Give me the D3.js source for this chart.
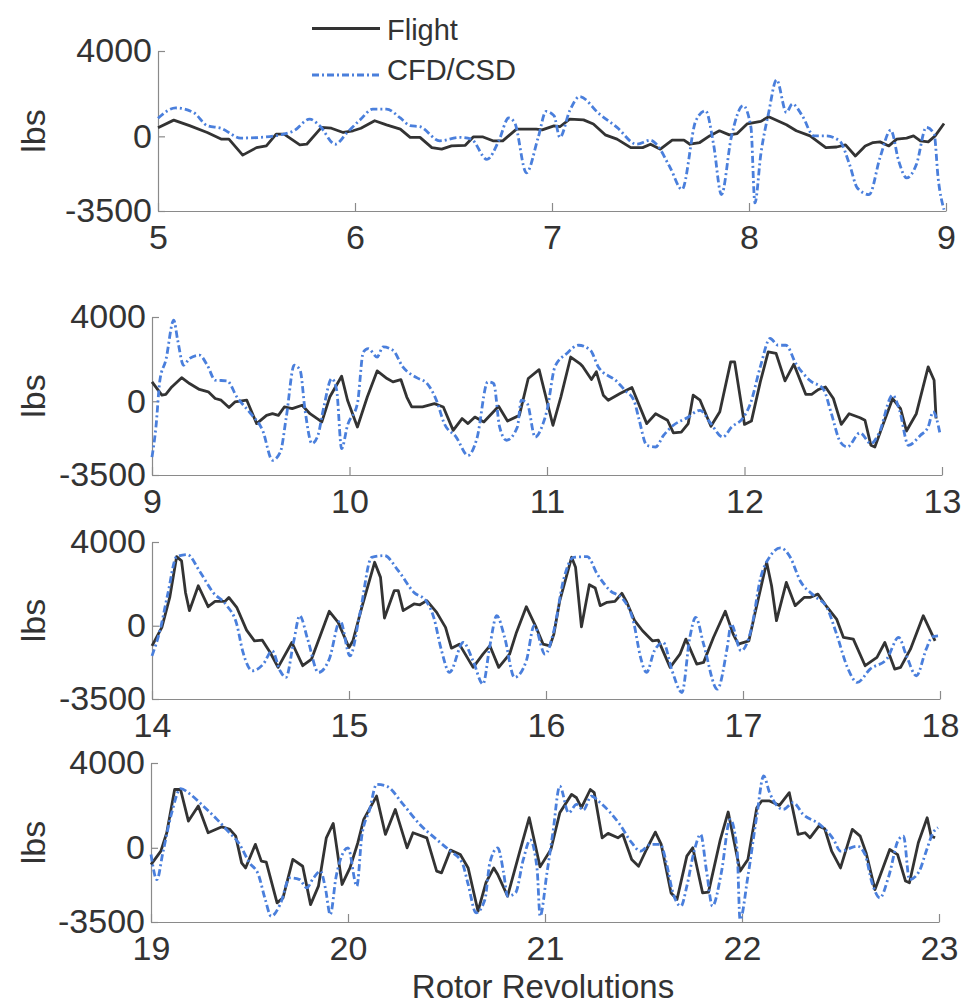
<!DOCTYPE html>
<html>
<head>
<meta charset="utf-8">
<script src="https://cdn.jsdelivr.net/npm/d3@7"></script>
<style>
  html, body { margin: 0; padding: 0; background: #ffffff; }
  svg { display: block; }
  text { font-family: "Liberation Sans", Arial, sans-serif; fill: #333333; }
</style>
</head>
<body>
<svg id="chart" width="964" height="1007"></svg>
<script>
// Blade load time histories, four revolution windows: [revolution, lbs]
const flight1 = [[5.00,400],[5.08,760],[5.16,500],[5.25,180],[5.32,-130],[5.36,-130],[5.43,-880],[5.50,-530],[5.55,-450],[5.60,100],[5.64,100],[5.72,-400],[5.755,-370],[5.83,420],[5.88,380],[5.94,180],[5.99,260],[6.03,380],[6.10,730],[6.16,540],[6.23,340],[6.28,-50],[6.33,-50],[6.39,-530],[6.44,-600],[6.49,-450],[6.56,-420],[6.60,-30],[6.65,-30],[6.70,-210],[6.75,-210],[6.82,340],[6.92,340],[6.95,300],[7.01,490],[7.04,450],[7.09,810],[7.16,770],[7.21,580],[7.27,70],[7.33,-130],[7.40,-530],[7.46,-530],[7.50,-370],[7.55,-600],[7.61,-180],[7.67,-180],[7.70,-370],[7.75,-290],[7.80,20],[7.85,260],[7.90,70],[7.94,130],[7.99,580],[8.06,700],[8.10,920],[8.19,540],[8.24,260],[8.31,20],[8.39,-530],[8.445,-500],[8.49,-400],[8.54,-920],[8.59,-450],[8.63,-290],[8.665,-260],[8.71,-450],[8.75,-130],[8.80,-80],[8.835,20],[8.87,-210],[8.91,-260],[8.945,20],[8.99,600]];
const cfd1 = [[5.00,850],[5.09,1330],[5.18,1120],[5.25,500],[5.32,380],[5.42,-80],[5.52,-50],[5.62,70],[5.69,260],[5.77,810],[5.82,500],[5.90,-370],[5.96,180],[6.03,810],[6.09,1280],[6.16,1280],[6.23,860],[6.28,500],[6.33,450],[6.43,-210],[6.53,-50],[6.59,-130],[6.67,-1080],[6.73,-210],[6.78,860],[6.81,650],[6.87,-1710],[6.93,-50],[6.97,1170],[7.01,970],[7.04,-50],[7.09,1200],[7.14,1860],[7.24,1050],[7.33,420],[7.43,-370],[7.50,-180],[7.53,-370],[7.60,-1470],[7.66,-2490],[7.73,730],[7.78,1200],[7.82,-370],[7.86,-2730],[7.91,-50],[7.97,1440],[8.01,420],[8.03,-3120],[8.06,-840],[8.10,1120],[8.14,2650],[8.19,1120],[8.22,1520],[8.27,970],[8.33,20],[8.39,20],[8.46,-210],[8.51,-1310],[8.55,-2420],[8.61,-2730],[8.665,-1000],[8.72,290],[8.76,-1160],[8.80,-1950],[8.85,-1310],[8.90,420],[8.94,100],[8.96,-1950],[8.99,-3440]];

const flight2 = [[9.00,920],[9.05,290],[9.07,330],[9.10,680],[9.15,1120],[9.19,840],[9.24,560],[9.285,450],[9.32,130],[9.35,50],[9.39,-300],[9.42,-30],[9.48,50],[9.53,-1060],[9.58,-670],[9.61,-590],[9.64,-670],[9.67,-270],[9.71,-350],[9.76,-190],[9.80,-590],[9.86,-980],[9.90,200],[9.96,1190],[9.99,50],[10.04,-1220],[10.09,200],[10.14,1440],[10.19,1080],[10.22,920],[10.26,1030],[10.29,200],[10.315,-270],[10.37,-270],[10.43,-110],[10.475,-270],[10.525,-1380],[10.57,-820],[10.60,-1060],[10.635,-750],[10.68,-980],[10.755,-240],[10.80,-940],[10.86,-670],[10.905,1080],[10.96,1500],[11.03,-1140],[11.07,200],[11.12,2100],[11.17,1760],[11.18,1660],[11.225,1030],[11.25,1400],[11.285,290],[11.31,50],[11.37,370],[11.43,650],[11.505,-1060],[11.55,-590],[11.61,-900],[11.64,-1500],[11.68,-1460],[11.715,-1060],[11.74,290],[11.775,50],[11.83,-1190],[11.875,-500],[11.93,1870],[11.95,1870],[12.00,-1100],[12.035,-940],[12.08,920],[12.12,2340],[12.16,2270],[12.205,970],[12.25,1760],[12.31,330],[12.34,330],[12.375,560],[12.41,680],[12.45,130],[12.49,-1100],[12.53,-590],[12.585,-780],[12.61,-900],[12.64,-2090],[12.66,-2170],[12.70,-1140],[12.75,130],[12.79,-350],[12.82,-1410],[12.87,-590],[12.93,1630],[12.96,1000],[12.97,-820]];
const cfd2 = [[9.00,-2650],[9.02,-1220],[9.04,1000],[9.07,1950],[9.11,3850],[9.13,2900],[9.16,1710],[9.19,2030],[9.24,2190],[9.28,1710],[9.32,1000],[9.38,970],[9.43,200],[9.50,-590],[9.56,-1380],[9.61,-2800],[9.65,-2410],[9.68,-750],[9.72,1710],[9.75,1470],[9.775,-430],[9.81,-2010],[9.84,-1620],[9.87,-270],[9.91,1080],[9.935,520],[9.96,-2250],[9.99,-1140],[10.04,-110],[10.07,2340],[10.095,2500],[10.14,2100],[10.17,2580],[10.22,2420],[10.27,1630],[10.34,1120],[10.39,870],[10.44,50],[10.48,-1060],[10.54,-1700],[10.60,-2570],[10.645,-1770],[10.70,920],[10.73,840],[10.76,-1220],[10.795,-1850],[10.85,-1220],[10.87,50],[10.90,-110],[10.94,-1700],[10.98,-1060],[11.00,-430],[11.04,1630],[11.10,2270],[11.16,2660],[11.22,2420],[11.26,1630],[11.35,970],[11.395,520],[11.44,50],[11.465,-820],[11.505,-2090],[11.55,-2170],[11.59,-1620],[11.64,-1140],[11.71,-780],[11.775,-430],[11.83,-1060],[11.89,-1700],[11.935,-1220],[11.99,-820],[12.03,-110],[12.08,1630],[12.13,2980],[12.17,2660],[12.21,2660],[12.26,1790],[12.33,1000],[12.40,560],[12.44,-590],[12.485,-1930],[12.52,-2170],[12.585,-1500],[12.64,-2010],[12.68,-1540],[12.75,290],[12.785,-430],[12.83,-2090],[12.89,-1620],[12.93,-1220],[12.955,-500],[12.99,-1540]];

const flight3 = [[14.00,-960],[14.05,-80],[14.09,1350],[14.125,3300],[14.15,3100],[14.17,1590],[14.19,720],[14.235,1910],[14.285,910],[14.32,1160],[14.37,1160],[14.39,1350],[14.43,880],[14.48,-210],[14.52,-720],[14.56,-690],[14.60,-1280],[14.64,-1990],[14.71,-800],[14.765,-1910],[14.81,-1590],[14.86,-320],[14.90,690],[14.945,160],[15.00,-1040],[15.02,-720],[15.065,880],[15.13,3030],[15.16,2310],[15.18,370],[15.23,1680],[15.25,1680],[15.275,720],[15.33,1040],[15.36,1000],[15.395,1200],[15.445,640],[15.49,-80],[15.52,-1070],[15.56,-880],[15.63,-1990],[15.68,-1360],[15.715,-960],[15.76,-1990],[15.815,-1360],[15.85,-320],[15.90,910],[15.95,-80],[15.985,-880],[16.02,-960],[16.04,-400],[16.07,1200],[16.13,3270],[16.15,2790],[16.18,-50],[16.22,1960],[16.25,1800],[16.275,960],[16.31,1120],[16.35,1160],[16.385,1550],[16.41,1120],[16.45,240],[16.49,-240],[16.54,-720],[16.57,-690],[16.63,-1990],[16.68,-1360],[16.71,-640],[16.765,-1830],[16.80,-1750],[16.85,-560],[16.91,690],[16.95,-400],[16.976,-880],[17.03,-720],[17.06,560],[17.12,3030],[17.145,1910],[17.17,240],[17.22,2070],[17.265,960],[17.31,1350],[17.34,1350],[17.38,1510],[17.425,910],[17.475,320],[17.51,-560],[17.56,-640],[17.62,-1910],[17.68,-1510],[17.72,-800],[17.77,-2070],[17.80,-1990],[17.85,-1120],[17.915,480],[17.975,-720]];
const cfd3 = [[14.00,-1440],[14.04,-240],[14.08,1510],[14.125,3300],[14.18,3400],[14.24,2630],[14.31,1590],[14.38,960],[14.43,80],[14.46,-1200],[14.51,-2150],[14.565,-1830],[14.61,-1200],[14.65,-2150],[14.68,-2470],[14.72,-720],[14.75,480],[14.79,-640],[14.845,-2230],[14.90,-1590],[14.955,240],[15.005,-1440],[15.055,560],[15.115,3270],[15.18,3350],[15.25,2630],[15.33,1590],[15.39,1200],[15.43,400],[15.47,-1200],[15.51,-2230],[15.58,-800],[15.63,-1680],[15.68,-2790],[15.715,-960],[15.75,480],[15.79,-560],[15.84,-2470],[15.90,-1680],[15.94,0],[15.995,-1360],[16.04,-240],[16.09,2230],[16.14,3270],[16.21,3300],[16.26,2470],[16.325,1680],[16.39,1280],[16.445,160],[16.48,-1510],[16.51,-2230],[16.55,-1200],[16.595,-800],[16.64,-2150],[16.69,-3190],[16.73,-560],[16.76,400],[16.80,-880],[16.87,-3030],[16.92,-1040],[16.94,80],[16.99,-1200],[17.04,-240],[17.09,2310],[17.14,3350],[17.19,3720],[17.24,3270],[17.29,2150],[17.36,1440],[17.425,880],[17.475,-400],[17.53,-1990],[17.58,-2710],[17.645,-2070],[17.73,-1590],[17.79,-560],[17.83,-1440],[17.88,-2390],[17.93,-1120],[17.96,-530],[17.99,-480]];

const flight4 = [[19.00,-790],[19.05,-160],[19.08,710],[19.12,2750],[19.15,2750],[19.19,1260],[19.24,1970],[19.29,710],[19.36,990],[19.40,870],[19.43,550],[19.46,-710],[19.48,-950],[19.53,160],[19.56,-630],[19.585,-680],[19.64,-2600],[19.67,-2360],[19.72,-550],[19.77,-870],[19.81,-2680],[19.85,-1810],[19.89,470],[19.925,1150],[19.97,-1730],[20.01,-950],[20.05,240],[20.08,1340],[20.145,2440],[20.19,630],[20.24,1810],[20.30,0],[20.33,710],[20.40,470],[20.45,-1100],[20.475,-1180],[20.52,-110],[20.57,-320],[20.61,-950],[20.66,-2990],[20.70,-1650],[20.74,-950],[20.76,-1260],[20.81,-2280],[20.87,-240],[20.92,1420],[20.975,-900],[21.03,-80],[21.075,1650],[21.135,2520],[21.16,2360],[21.185,1890],[21.23,2750],[21.25,2600],[21.29,470],[21.32,680],[21.37,470],[21.395,630],[21.44,-550],[21.475,-870],[21.515,-80],[21.56,740],[21.59,160],[21.64,-2130],[21.67,-2440],[21.72,-390],[21.75,0],[21.80,-2130],[21.83,-2090],[21.89,390],[21.93,1690],[21.99,-1100],[22.03,-550],[22.075,1890],[22.10,2210],[22.14,2210],[22.19,2000],[22.24,2600],[22.285,630],[22.32,710],[22.345,470],[22.39,1020],[22.42,900],[22.455,-160],[22.50,-950],[22.56,870],[22.60,550],[22.63,-240],[22.675,-1970],[22.75,-80],[22.79,-320],[22.83,-1570],[22.85,-1650],[22.895,240],[22.94,1420],[22.96,550],[22.98,470]];
const cfd4 = [[19.00,-320],[19.03,-1500],[19.06,-240],[19.105,1650],[19.15,2790],[19.20,2520],[19.265,1970],[19.335,1340],[19.39,790],[19.45,160],[19.50,-710],[19.545,-1260],[19.58,-2440],[19.61,-3230],[19.655,-2680],[19.705,-1420],[19.755,-1500],[19.79,-1890],[19.825,-1420],[19.86,-1100],[19.885,-1890],[19.91,-3150],[19.94,-1340],[20.00,0],[20.045,-1810],[20.07,550],[20.11,1810],[20.145,2990],[20.195,2910],[20.28,2050],[20.365,1100],[20.45,390],[20.52,-160],[20.58,-710],[20.61,-1730],[20.65,-3070],[20.695,-2440],[20.72,-710],[20.76,0],[20.79,-1180],[20.81,-2280],[20.85,-2130],[20.89,-550],[20.925,370],[20.96,-1020],[20.975,-3230],[21.01,-1180],[21.04,710],[21.075,2910],[21.12,1650],[21.16,2050],[21.195,1780],[21.235,2440],[21.28,2130],[21.38,1100],[21.44,240],[21.485,-160],[21.535,160],[21.585,160],[21.62,-870],[21.645,-1970],[21.69,-2750],[21.72,-1810],[21.755,-240],[21.79,630],[21.82,-1100],[21.85,-2750],[21.895,-1180],[21.94,1340],[21.975,-80],[21.99,-3390],[22.03,-1340],[22.075,1500],[22.11,3390],[22.14,2600],[22.21,1810],[22.26,2130],[22.31,1580],[22.395,1100],[22.465,390],[22.50,-160],[22.585,80],[22.625,-320],[22.66,-1650],[22.70,-2360],[22.745,-1340],[22.795,390],[22.82,550],[22.85,-1500],[22.90,-1100],[22.935,-160],[22.97,710],[22.995,950]];

const revStarts = [5, 9, 14, 19];
const yTicks = [-3500, 0, 4000];
const yLabel = "lbs";
const xLabel = "Rotor Revolutions";
const seriesNames = ["Flight", "CFD/CSD"];

const flightSets = [flight1, flight2, flight3, flight4];
const cfdSets = [cfd1, cfd2, cfd3, cfd4];

// panel frames (left, right, top, bottom) in pixels
const frames = [
  {l: 158, r: 946, t: 51,  b: 211},
  {l: 152, r: 942, t: 317, b: 475},
  {l: 152, r: 940, t: 542, b: 699},
  {l: 151, r: 939, t: 763, b: 922}
];

const flightColor = "#333333";
const cfdColor = "#4a7fdc";
const axisColor = "#8a8a8a";
const plainNumber = d => String(d);   // keeps an ASCII hyphen for negatives

const svg = d3.select("#chart");

frames.forEach((f, i) => {
  const start = revStarts[i];
  const x = d3.scaleLinear().domain([start, start + 4]).range([f.l, f.r]);
  const y = d3.scaleLinear().domain([-3500, 4000]).range([f.b, f.t]);
  const g = svg.append("g");

  // x axis with inward ticks
  const xAxis = g.append("g")
    .attr("transform", `translate(0,${f.b})`)
    .call(d3.axisBottom(x).tickValues(d3.range(start, start + 5)).tickFormat(plainNumber)
      .tickSizeInner(-8).tickSizeOuter(0).tickPadding(14));
  // y axis with inward ticks
  const yAxis = g.append("g")
    .attr("transform", `translate(${f.l},0)`)
    .call(d3.axisLeft(y).tickValues(yTicks).tickFormat(plainNumber)
      .tickSizeInner(-7).tickSizeOuter(0).tickPadding(6));

  [xAxis, yAxis].forEach(ax => {
    ax.select(".domain").attr("stroke", axisColor).attr("stroke-width", 1.2);
    ax.selectAll(".tick line").attr("stroke", axisColor).attr("stroke-width", 1.2);
    ax.selectAll(".tick text")
      .attr("fill", "#333")
      .style("font-family", "'Liberation Sans', Arial, sans-serif")
      .style("font-size", "34px");
  });

  g.append("text")
    .attr("transform", `translate(45,${(f.t + f.b) / 2}) rotate(-90)`)
    .attr("text-anchor", "middle")
    .style("font-size", "34px")
    .text(yLabel);

  const flightLine = d3.line().x(d => x(d[0])).y(d => y(d[1])).curve(d3.curveLinear);
  const cfdLine = d3.line().x(d => x(d[0])).y(d => y(d[1])).curve(d3.curveMonotoneX);

  g.append("path")
    .datum(flightSets[i])
    .attr("d", flightLine)
    .attr("fill", "none")
    .attr("stroke", flightColor)
    .attr("stroke-width", 2.8)
    .attr("stroke-linejoin", "round");

  g.append("path")
    .datum(cfdSets[i])
    .attr("d", cfdLine)
    .attr("fill", "none")
    .attr("stroke", cfdColor)
    .attr("stroke-width", 2.8)
    .attr("stroke-dasharray", "7,3,2,3");
});

// x axis title
svg.append("text")
  .attr("x", 543)
  .attr("y", 997.5)
  .attr("text-anchor", "middle")
  .style("font-size", "33px")
  .text(xLabel);

// legend
const legend = svg.append("g");
const legendRows = [
  {name: seriesNames[0], color: flightColor, dash: null, ly: 28.5, ty: 39.5},
  {name: seriesNames[1], color: cfdColor, dash: "7,3,2,3", ly: 75, ty: 80}
];
legendRows.forEach(r => {
  legend.append("line")
    .attr("x1", 312).attr("x2", 380)
    .attr("y1", r.ly).attr("y2", r.ly)
    .attr("stroke", r.color)
    .attr("stroke-width", 2.8)
    .attr("stroke-dasharray", r.dash);
  legend.append("text")
    .attr("x", 387)
    .attr("y", r.ty)
    .style("font-size", "29px")
    .text(r.name);
});
</script>
</body>
</html>
